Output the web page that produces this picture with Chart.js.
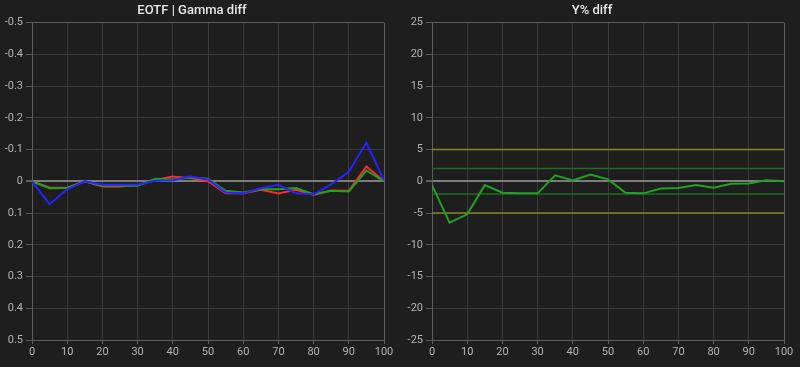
<!DOCTYPE html>
<html>
<head>
<meta charset="utf-8">
<script src="https://cdn.jsdelivr.net/npm/chart.js@4"></script>
<style>
  html, body { margin: 0; padding: 0; background: #1e1e1e; }
  .box { position: absolute; top: 0; width: 400px; height: 367px; }
</style>
</head>
<body>
<div class="box" style="left:0"><canvas id="gamma" width="400" height="367"></canvas></div>
<div class="box" style="left:400px"><canvas id="luma" width="400" height="367"></canvas></div>
<script>
// stimulus levels (%)
const levels = [0, 5, 10, 15, 20, 25, 30, 35, 40, 45, 50, 55, 60, 65, 70, 75, 80, 85, 90, 95, 100];

// EOTF gamma difference per channel
const gammaRed   = [0, 0.020, 0.020, 0, 0.016, 0.016, 0.012, -0.004, -0.015, -0.010, 0, 0.038, 0.038, 0.027, 0.038, 0.027, 0.043, 0.029, 0.030, -0.047, 0];
const gammaGreen = [0, 0.022, 0.021, 0, 0.014, 0.014, 0.014, -0.008, -0.006, -0.012, -0.008, 0.030, 0.035, 0.025, 0.025, 0.021, 0.041, 0.030, 0.032, -0.034, 0];
const gammaBlue  = [0, 0.072, 0.025, 0, 0.011, 0.011, 0.011, -0.002, -0.003, -0.015, -0.006, 0.035, 0.038, 0.022, 0.011, 0.038, 0.041, 0.010, -0.030, -0.122, -0.003];

// luminance error (%)
const lumaDiff = [-0.6, -6.5, -5.2, -0.6, -1.8, -1.9, -1.9, 0.95, 0.15, 1.05, 0.3, -1.8, -1.9, -1.15, -1.05, -0.6, -1.0, -0.4, -0.35, 0.15, 0];
const lumaOuter = [5, -5];
const lumaInner = [2, -2];

const bg = '#1e1e1e';
const gridCol = '#3a3a3a';
const edgeCol = '#5e5e5e';
const tickCol = '#b4b4b4';
const font = { family: 'Roboto', size: 11 };

const pts = ys => levels.map((x, i) => ({ x: x, y: ys[i] }));
const flat = v => levels.map(x => ({ x: x, y: v }));

function line(label, ys, color) {
  return { label, data: pts(ys), borderColor: color, borderWidth: 2, pointRadius: 0, tension: 0 };
}
function guide(v, color) {
  return { label: 'ref', data: flat(v), borderColor: color, borderWidth: 1.5, pointRadius: 0 };
}

function baseOptions(title, yMin, yMax, step, reverse, fmt) {
  return {
    responsive: false,
    animation: false,
    devicePixelRatio: 1,
    layout: { padding: { left: 0, right: 16, top: 0, bottom: 0 } },
    plugins: {
      legend: { display: false },
      tooltip: { enabled: false },
      title: {
        display: true, text: title, color: '#e6e6e6',
        font: { family: 'Roboto', size: 13, weight: '500' },
        padding: { top: 3, bottom: 4 }
      }
    },
    scales: {
      x: {
        type: 'linear', min: 0, max: 100,
        afterFit: s => { s.height = 27; },
        ticks: { stepSize: 10, color: tickCol, font, padding: 2, maxRotation: 0 },
        grid: {
          color: c => (c.tick.value === 100 ? edgeCol : gridCol),
          tickLength: 4, tickColor: edgeCol
        },
        border: { color: edgeCol }
      },
      y: {
        min: yMin, max: yMax, reverse,
        afterFit: s => { s.width = 32; },
        ticks: { stepSize: step, color: tickCol, font, padding: 3, callback: fmt },
        grid: {
          color: c => {
            const v = Math.round(c.tick.value * 1000) / 1000;
            if (v === 0) return '#7c7c7c';
            if (v === yMin || v === yMax) return edgeCol;
            return gridCol;
          },
          lineWidth: c => (Math.abs(c.tick.value) < 1e-9 ? 2 : 1),
          tickLength: 6, tickColor: edgeCol
        },
        border: { color: edgeCol }
      }
    }
  };
}

const bgPlugin = {
  id: 'bg',
  beforeDraw(chart) {
    const c = chart.ctx;
    c.save();
    c.fillStyle = bg;
    c.fillRect(0, 0, chart.width, chart.height);
    c.restore();
  }
};

// first dataset ends up on top
new Chart(document.getElementById('gamma'), {
  type: 'line',
  data: {
    datasets: [
      line('Blue', gammaBlue, '#2424ff'),
      line('Green', gammaGreen, '#22a022'),
      line('Red', gammaRed, '#ff2a2a')
    ]
  },
  options: baseOptions('EOTF | Gamma diff', -0.5, 0.5, 0.1, true,
    v => String(Math.round(v * 10) / 10)),
  plugins: [bgPlugin]
});

new Chart(document.getElementById('luma'), {
  type: 'line',
  data: {
    datasets: [
      line('Y%', lumaDiff, '#22a022'),
      guide(lumaInner[0], '#1d6e1d'),
      guide(lumaInner[1], '#1d6e1d'),
      guide(lumaOuter[0], '#85851e'),
      guide(lumaOuter[1], '#85851e')
    ]
  },
  options: baseOptions('Y% diff', -25, 25, 5, false, v => String(v)),
  plugins: [bgPlugin]
});
</script>
</body>
</html>
